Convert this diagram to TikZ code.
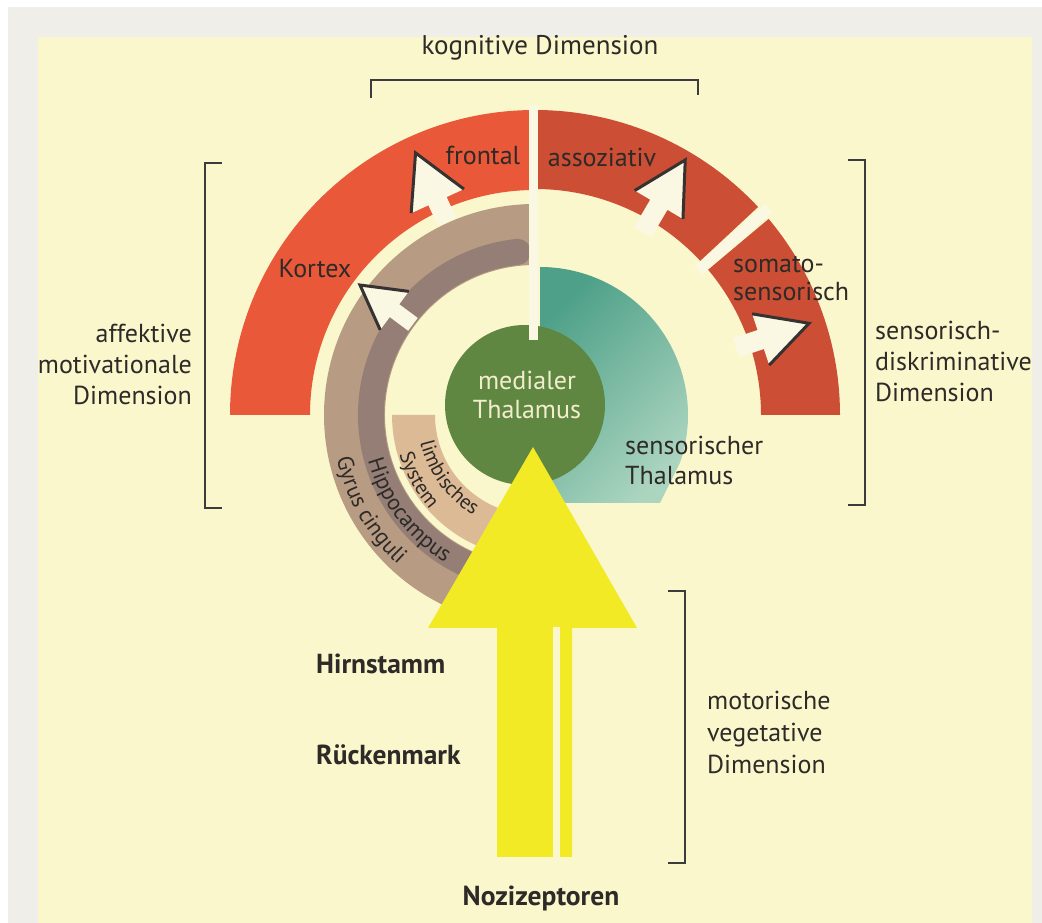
\documentclass[tikz,border=0pt]{standalone}
\usepackage{fontspec}
\setmainfont{PT Sans}
\usetikzlibrary{calc,decorations.text}
\definecolor{bgY}{RGB}{250,247,205}
\definecolor{pagegray}{RGB}{240,238,232}
\definecolor{gapcol}{RGB}{250,248,226}
\definecolor{redL}{RGB}{234,88,58}
\definecolor{redD}{RGB}{204,78,52}
\definecolor{brownL}{RGB}{183,155,130}
\definecolor{brownD}{RGB}{148,126,117}
\definecolor{tanC}{RGB}{221,186,150}
\definecolor{greenC}{RGB}{96,135,66}
\definecolor{tealD}{RGB}{78,160,136}
\definecolor{tealL}{RGB}{172,213,192}
\definecolor{yel}{RGB}{242,234,36}
\definecolor{txt}{RGB}{45,42,40}
\definecolor{creamtxt}{RGB}{242,238,205}
\definecolor{brk}{RGB}{60,60,60}
\definecolor{arrowc}{RGB}{55,50,50}
\newcommand\annsec[5]{\fill[#1] ($(C)+(#2:#5)$) arc[start angle=#2,end angle=#3,radius=#5] -- ($(C)+(#3:#4)$) arc[start angle=#3,end angle=#2,radius=#4] -- cycle;}
\newcommand\openarrow[6]{%
\begin{scope}[shift={(C)},rotate=#1]
\fill[gapcol] (#2,0) -- (#2-#3,#4) -- (#2-#3,#5) -- (#6,#5) -- (#6,-#5) -- (#2-#3,-#5) -- (#2-#3,-#4) -- cycle;
\draw[arrowline] (#2-#3,#4) -- (#2,0) -- (#2-#3,-#4);
\end{scope}}
\newcommand\curvefont{\fontsize{22.5}{23}\selectfont}
\newcommand\curvefontsmall{\fontsize{20.5}{21}\selectfont}
\tikzset{
 lbl/.style={font=\fontsize{26}{31}\selectfont, text=txt, inner sep=0pt},
 boldlbl/.style={font=\fontsize{27.5}{31}\selectfont\bfseries, text=txt, inner sep=0pt},
 brk/.style={draw=brk, line width=2pt},
 arrowline/.style={draw=arrowc, line width=3pt, line join=miter},
 curved/.style={decorate, decoration={text along path, text align=center, text color=txt, text={|\curvefont|#1}}},
 curvedsmall/.style={decorate, decoration={text along path, text align=center, text color=txt, text={|\curvefontsmall|#1}}},
}
\begin{document}
\begin{tikzpicture}[x=1pt,y=1pt]
\useasboundingbox (0,0) rectangle (1042,923);
\fill[white] (0,0) rectangle (1042,923);
\fill[pagegray] (8,0) rectangle (1042,916);
\fill[bgY] (38,0) rectangle (1032,886);
\coordinate (C) at (535,508);
% cortex bands
\annsec{redL}{90}{180}{225}{305}
\annsec{redD}{43}{90}{226}{305}
\annsec{redD}{0}{40}{226}{305}
% limbic bands
\annsec{brownL}{90}{247}{150}{211}
\draw[brownD, line width=26pt] ($(C)+(96:164)$) arc[start angle=96, end angle=252, radius=164];
\fill[brownD] ($(C)+(96:164)$) circle[radius=13];
\annsec{tanC}{180}{248}{100}{143}
% sensory thalamus
\shade[top color=tealD, bottom color=tealL, shading angle=45] (540,656) arc[start angle=90, end angle=-18.5, radius=148] -- (660,420) -- (540,420) -- cycle;
% medial thalamus
\fill[greenC] (525,518) circle[radius=80];
% gaps
\draw[gapcol, line width=9pt] (533.5,818) -- (533.5,583);
\draw[gapcol, line width=11pt] ($(C)+(41.5:218)$) -- ($(C)+(41.5:312)$);
% yellow arrow
\fill[yel] (533,476) -- (637,295) -- (572,295) -- (572,66) -- (497,66) -- (497,295) -- (428,295) -- cycle;
\draw[bgY, line width=7pt] (556.5,296) -- (556.5,66);
% open arrows
\openarrow{114.5}{288}{53}{29}{10}{212}
\openarrow{59.5}{296}{52}{28}{10}{212}
\openarrow{18.5}{289}{51}{27}{10}{212}
\openarrow{143.4}{218}{43}{24}{8}{152}
% curved labels
\path[curved={Gyrus cinguli}] ($(C)+(178:203)$) arc[start angle=178, end angle=242, radius=203];
\path[curved={Hippocampus}] ($(C)+(185:173)$) arc[start angle=185, end angle=249, radius=173];
\path[curvedsmall={limbisches}] ($(C)+(184:118)$) arc[start angle=184, end angle=248, radius=118];
\path[curvedsmall={System}] ($(C)+(177:141)$) arc[start angle=177, end angle=241, radius=141];
% labels
\node[lbl, font=\fontsize{27}{31}\selectfont] (kog) at (540,875) {kognitive Dimension};
\node[lbl] (fro) at (483,768) {frontal};
\node[lbl] (ass) at (602,766) {assoziativ};
\node[lbl] (kor) at (315,654) {Kortex};
\node[lbl, align=left, anchor=west, font=\fontsize{26}{28}\selectfont] (som) at (733,644) {somato-\\sensorisch};
\node[lbl, align=right, anchor=east] (aff) at (192,559) {affektive\\motivationale\\Dimension};
\node[lbl, align=left, anchor=west] (sen) at (875,562) {sensorisch-\\diskriminative\\Dimension};
\node[lbl, align=center, text=creamtxt, font=\fontsize{26}{29}\selectfont] (med) at (527,528) {medialer\\Thalamus};
\node[lbl, align=left, anchor=west, font=\fontsize{26}{30}\selectfont] (sth) at (625,463) {sensorischer\\Thalamus};
\node[lbl, align=left, anchor=west, font=\fontsize{26}{32}\selectfont] (mot) at (707,191) {motorische\\vegetative\\Dimension};
\node[boldlbl, anchor=west] (hir) at (316,259) {Hirnstamm};
\node[boldlbl, anchor=west] (rue) at (316,168) {Rückenmark};
\node[boldlbl] (noz) at (541,25) {Nozizeptoren};
% brackets
\draw[brk] (371,825) -- (371,843) -- (698,843) -- (698,828);
\draw[brk] (222,760) -- (205,760) -- (205,415) -- (222,415);
\draw[brk] (848,763) -- (865,763) -- (865,418) -- (848,418);
\draw[brk] (668,332) -- (685,332) -- (685,60) -- (668,60);
\end{tikzpicture}
\end{document}
